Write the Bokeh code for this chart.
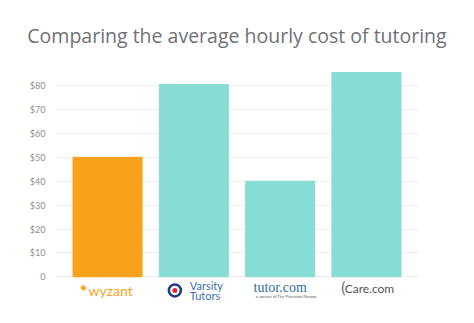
from bokeh.plotting import figure
from bokeh.models import ColumnDataSource, FactorRange, FixedTicker, Title
from bokeh.transform import dodge
from bokeh.core.properties import value
from bokeh.embed import file_html
from bokeh.resources import INLINE

# ---- data ----
categories = ["Wyzant", "Varsity Tutors", "Tutor.com", "Care.com"]
hourly_cost = [50, 80.5, 40, 85.5]
bar_colors = ["#F9A11B", "#86DDD4", "#86DDD4", "#86DDD4"]
tick_values = [0, 10, 20, 30, 40, 50, 60, 70, 80]
tick_labels = ["0", "$10", "$20", "$30", "$40", "$50", "$60", "$70", "$80"]
title_text = "Comparing the average hourly cost of tutoring"

src = ColumnDataSource(dict(cat=categories, cost=hourly_cost, color=bar_colors))

p = figure(width=474, height=323, output_backend="svg", toolbar_location=None,
           x_range=FactorRange(factors=categories, range_padding=0.0515,
                               range_padding_units="percent"),
           y_range=(-12, 88),
           min_border_left=55, min_border_right=56,
           min_border_top=66, min_border_bottom=18)
p.title = Title(text=title_text, align="center", text_font="Open Sans",
                text_font_size="19.5px", text_font_style="normal",
                text_color="#707175", standoff=35)
p.outline_line_color = None
p.background_fill_color = "white"
p.border_fill_color = "white"

p.vbar(x="cat", top="cost", width=0.8, color="color", source=src)

# y axis
p.yaxis.ticker = FixedTicker(ticks=tick_values)
p.yaxis.major_label_overrides = {v: l for v, l in zip(tick_values, tick_labels)}
p.yaxis.axis_line_color = None
p.yaxis.major_tick_line_color = None
p.yaxis.minor_tick_line_color = None
p.yaxis.major_label_text_font = "Lato"
p.yaxis.major_label_text_font_size = "9px"
p.yaxis.major_label_text_color = "#909090"
p.yaxis.major_label_standoff = 4
p.ygrid.grid_line_color = "#eeeeee"
p.xgrid.grid_line_color = None
p.xaxis.visible = False

# ---- logo-like labels under the bars ----
ly = -5.7
# wyzant
p.text(x=[categories[0]], y=[ly], text=["wyzant"], x_offset=3,
       text_font=value("Lato"), text_font_size="14px", text_color="#F5A623",
       text_align="center", text_baseline="middle")
p.text(x=[categories[0]], y=[ly], text=["\u25C6"], x_offset=-24, y_offset=-3,
       text_font=value("DejaVu Sans"), text_font_size="8px", text_color="#F5A623",
       text_align="center", text_baseline="middle")
# Varsity Tutors
icon_src = ColumnDataSource(dict(cat=[categories[1]], y=[ly]))
p.scatter(x=dodge("cat", -0.22, range=p.x_range), y="y", source=icon_src,
          marker="circle", size=12, fill_color="white",
          line_color="#1E3A8A", line_width=2.5)
p.scatter(x=dodge("cat", -0.22, range=p.x_range), y="y", source=icon_src,
          marker="circle", size=5, fill_color="#E0263A", line_color=None)
p.text(x=[categories[1]], y=[ly], text=["Varsity"], x_offset=-4, y_offset=-5,
       text_font=value("Lato"), text_font_size="11px", text_color="#3B6FB6",
       text_align="left", text_baseline="middle")
p.text(x=[categories[1]], y=[ly], text=["Tutors"], x_offset=-4, y_offset=5,
       text_font=value("Lato"), text_font_size="11px", text_color="#3B6FB6",
       text_align="left", text_baseline="middle")
# tutor.com
p.text(x=[categories[2]], y=[ly], text=["tutor.com"], y_offset=-3,
       text_font=value("Liberation Serif"), text_font_size="14px", text_color="#2E6E9E",
       text_align="center", text_baseline="middle")
p.text(x=[categories[2]], y=[ly], text=["a service of The Princeton Review"],
       x_offset=6, y_offset=6,
       text_font=value("Liberation Sans"), text_font_size="4px", text_color="#555555",
       text_align="center", text_baseline="middle")
# Care.com
p.text(x=[categories[3]], y=[ly], text=["Care.com"], x_offset=3, y_offset=-2,
       text_font=value("Lato"), text_font_size="12px", text_color="#555555",
       text_align="center", text_baseline="middle")
p.text(x=[categories[3]], y=[ly], text=["("], x_offset=-23, y_offset=-2,
       text_font=value("DejaVu Sans"), text_font_size="15px", text_color="#777777",
       text_align="center", text_baseline="middle")

open("out.html", "w").write(file_html(p, INLINE))
